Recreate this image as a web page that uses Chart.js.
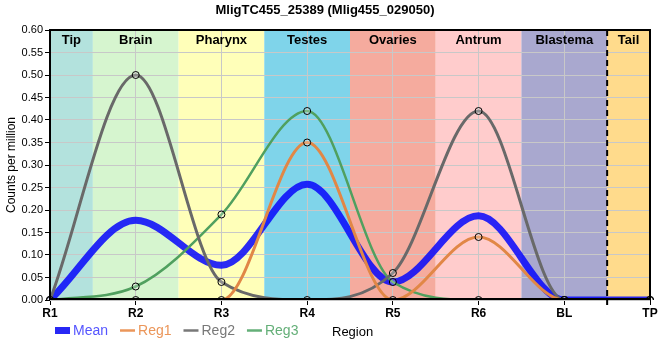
<!DOCTYPE html>
<html><head><meta charset="utf-8">
<script src="https://cdn.jsdelivr.net/npm/chart.js@4"></script>
<style>html,body{margin:0;padding:0;background:#fff}#wrap{width:660px;height:360px}</style>
</head><body><div id="wrap"><canvas id="c" width="660" height="360"></canvas></div>
<script>
const categories = ['R1','R2','R3','R4','R5','R6','BL','TP'];
const meanValues = [0, 0.177, 0.077, 0.257, 0.04, 0.187, 0, 0];
const reg1Values = [0, 0, 0, 0.35, 0, 0.14, 0, 0];
const reg2Values = [0, 0.50, 0.04, 0, 0.06, 0.42, 0, 0];
const reg3Values = [0, 0.03, 0.19, 0.42, 0.04, 0, 0, 0];
const yTickValues = [0, 0.05, 0.10, 0.15, 0.20, 0.25, 0.30, 0.35, 0.40, 0.45, 0.50, 0.55, 0.60];
const bandNames = ['Tip','Brain','Pharynx','Testes','Ovaries','Antrum','Blastema','Tail'];
const bandStarts = [0, 0.5, 1.5, 2.5, 3.5, 4.5, 5.5, 6.5];
const bandEnds = [0.5, 1.5, 2.5, 3.5, 4.5, 5.5, 6.5, 7];
const bandColors = ['#b3e2dd','#d6f5cf','#ffffb9','#7fd4ea','#f5ab9e','#ffcccc','#a9a8cf','#ffdb8c'];
const dashedBoundary = 6.5;

Chart.defaults.font.family = "'Liberation Sans', Arial, sans-serif";

const legendItems = [
  {text:'Mean', kind:'box', color:'rgb(40,40,245)', textColor:'rgb(85,85,255)'},
  {text:'Reg1', kind:'line', color:'rgb(235,150,90)', textColor:'rgb(235,150,90)'},
  {text:'Reg2', kind:'line', color:'rgb(120,120,120)', textColor:'rgb(120,120,120)'},
  {text:'Reg3', kind:'line', color:'rgb(100,175,120)', textColor:'rgb(100,175,120)'}
];

const decor = {
  id: 'decor',
  beforeDraw(chart) {
    const {ctx, chartArea: a, scales: {x}} = chart;
    ctx.save();
    for (let i = 0; i < bandNames.length; i++) {
      const x0 = x.getPixelForValue(bandStarts[i]);
      const x1 = x.getPixelForValue(bandEnds[i]);
      ctx.fillStyle = bandColors[i];
      ctx.fillRect(x0, a.top, x1 - x0, a.bottom - a.top);
    }
    ctx.restore();
  },
  beforeDatasetsDraw(chart) {
    const {ctx, chartArea: a, scales: {x}} = chart;
    ctx.save();
    ctx.font = "bold 13px 'Liberation Sans', Arial, sans-serif";
    ctx.fillStyle = '#000';
    ctx.textAlign = 'center';
    ctx.textBaseline = 'middle';
    for (let i = 0; i < bandNames.length; i++) {
      const x0 = x.getPixelForValue(bandStarts[i]);
      const x1 = x.getPixelForValue(bandEnds[i]);
      ctx.fillText(bandNames[i], (x0 + x1) / 2, a.top + 10);
    }
    ctx.restore();
  },
  afterDatasetsDraw(chart) {
    const {ctx, chartArea: a, scales: {x}} = chart;
    ctx.save();
    const xd = x.getPixelForValue(dashedBoundary);
    ctx.strokeStyle = '#000';
    ctx.lineWidth = 2;
    ctx.setLineDash([6, 4]);
    ctx.beginPath();
    ctx.moveTo(xd, a.top);
    ctx.lineTo(xd, a.bottom + 5);
    ctx.stroke();
    ctx.setLineDash([]);
    ctx.lineWidth = 2;
    ctx.strokeRect(a.left, a.top, a.right - a.left, a.bottom - a.top - 1);
    ctx.restore();
  },
  afterDraw(chart) {
    const {ctx} = chart;
    ctx.save();
    ctx.font = "14px 'Liberation Sans', Arial, sans-serif";
    ctx.textBaseline = 'middle';
    ctx.textAlign = 'left';
    let px = 55;
    const cy = 330.5;
    legendItems.forEach(it => {
      if (it.kind === 'box') {
        ctx.fillStyle = it.color;
        ctx.fillRect(px, cy - 3.5, 15, 7);
      } else {
        ctx.strokeStyle = it.color;
        ctx.lineWidth = 2.5;
        ctx.beginPath();
        ctx.moveTo(px, cy);
        ctx.lineTo(px + 15, cy);
        ctx.stroke();
      }
      ctx.fillStyle = it.textColor;
      ctx.fillText(it.text, px + 18, cy + 0.5);
      px += 18 + ctx.measureText(it.text).width + 12;
    });
    ctx.font = "13px 'Liberation Sans', Arial, sans-serif";
    ctx.fillStyle = '#000';
    ctx.fillText('Region', 332, 332);
    ctx.restore();
  }
};

const pointCommon = {
  pointRadius: 3.5,
  pointHoverRadius: 3.5,
  pointBorderColor: '#000',
  pointBorderWidth: 1,
  pointBackgroundColor: 'rgba(255,255,255,0.25)'
};

new Chart(document.getElementById('c'), {
  type: 'line',
  data: {
    labels: categories,
    datasets: [
      {label:'Mean', data: meanValues, borderColor:'rgba(10,10,250,0.87)', backgroundColor:'rgba(10,10,250,0.87)', borderWidth:7, pointRadius:0, cubicInterpolationMode:'monotone', order:1},
      Object.assign({label:'Reg1', data: reg1Values, borderColor:'rgb(225,135,70)', borderWidth:3, cubicInterpolationMode:'monotone', order:0}, pointCommon),
      Object.assign({label:'Reg2', data: reg2Values, borderColor:'rgb(105,105,105)', borderWidth:3, cubicInterpolationMode:'monotone', order:0}, pointCommon),
      Object.assign({label:'Reg3', data: reg3Values, borderColor:'rgb(80,160,95)', borderWidth:2.5, cubicInterpolationMode:'monotone', order:0}, pointCommon)
    ]
  },
  options: {
    responsive: false,
    animation: false,
    devicePixelRatio: 1,
    layout: {padding: {left: 0, right: 10, top: 0, bottom: 0}},
    plugins: {
      legend: {display: false},
      tooltip: {enabled: false},
      title: {
        display: true,
        text: 'MligTC455_25389 (Mlig455_029050)',
        color: '#000',
        font: {size: 13, weight: 'bold'},
        padding: {top: 3, bottom: 11.4}
      }
    },
    scales: {
      x: {
        type: 'category',
        offset: false,
        grid: {color: '#c8c8c8', tickColor: '#000', tickLength: 5, lineWidth: 1},
        border: {display: false},
        ticks: {color: '#000', font: {size: 12, weight: 'bold'}, padding: 1, maxRotation: 0, autoSkip: false},
        afterFit(s) { s.height = 60; }
      },
      y: {
        min: 0, max: 0.6,
        afterBuildTicks(s) { s.ticks = yTickValues.map(v => ({value: v})); },
        grid: {color: '#c8c8c8', tickColor: '#000', tickLength: 5, lineWidth: 1},
        border: {display: false},
        ticks: {color: '#000', font: {size: 11}, padding: 2, callback: v => Number(v).toFixed(2)},
        title: {display: true, text: 'Counts per million', color: '#000', font: {size: 12}, padding: {top: 4, bottom: 0}},
        afterFit(s) { s.width = 50; }
      }
    }
  },
  plugins: [decor]
});
</script>
</body></html>
